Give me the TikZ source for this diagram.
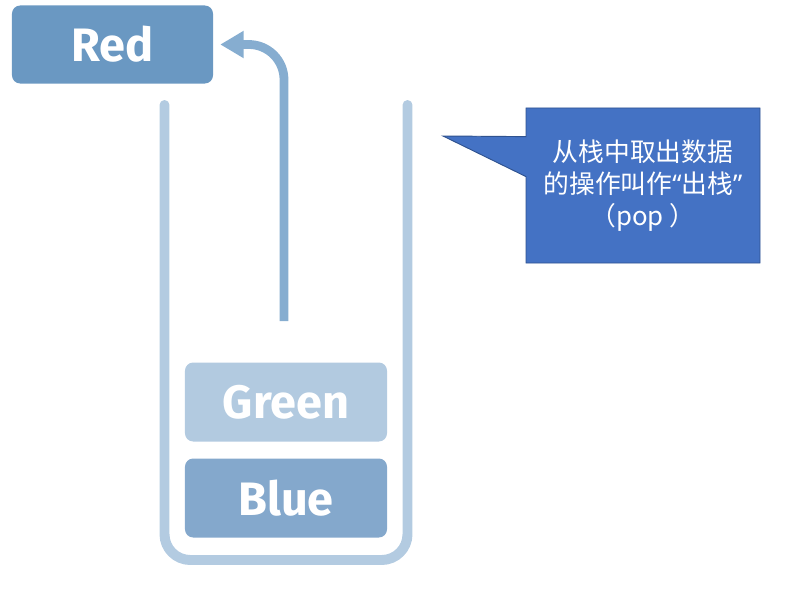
\documentclass[tikz,border=0pt]{standalone}
\usepackage{fontspec}
\setmainfont{Fira Sans}
\newfontfamily\cjkfont{Noto Sans CJK SC}
\newfontfamily\quotefont{Noto Sans}
\usetikzlibrary{arrows.meta,positioning,shapes.callouts}
\definecolor{stackbox1}{RGB}{106,152,194}
\definecolor{stackbox2}{RGB}{178,202,224}
\definecolor{stackbox3}{RGB}{132,168,204}
\definecolor{stackwall}{RGB}{179,203,225}
\definecolor{poparrow}{RGB}{134,173,208}
\definecolor{noteblue}{RGB}{68,114,196}
\definecolor{noteline}{RGB}{47,82,143}
\newcommand{\nq}[1]{{\quotefont #1}}
\tikzset{
  sitem/.style={rectangle, rounded corners=7pt, inner sep=0pt,
                minimum width=6.06cm, minimum height=2.37cm,
                text=white, font=\fontsize{40}{48}\selectfont\bfseries},
  sitemA/.style={sitem, fill=stackbox1, minimum width=6.03cm, minimum height=2.34cm},
  sitemB/.style={sitem, fill=stackbox2},
  sitemC/.style={sitem, fill=stackbox3},
  swall/.style={line width=8.5pt, stackwall, line cap=round, rounded corners=22pt},
  spop/.style={line width=7.5pt, poparrow, rounded corners=30pt,
               -{Triangle[length=20pt, width=22pt]}, shorten >=6pt},
  snote/.style={rectangle callout, fill=noteblue, draw=noteline, line width=0.8pt,
                minimum width=7.02cm, minimum height=4.65cm, inner sep=0pt,
                callout pointer width=1.2cm, text=white, align=center,
                font=\cjkfont\fontsize{22}{27}\selectfont},
}
\begin{document}
\begin{tikzpicture}[x=0.03cm, y=-0.03cm]
  \useasboundingbox (0,0) rectangle (795,589);
  % stack
  \draw[swall] (164.5,105) -- (164.5,560) -- (407.5,560) -- (407.5,105);
  \node[sitemB] (green) at (286,402) {Green};
  \node[sitemC] (blue)  at (286,498) {Blue};
  % popped item
  \node[sitemA] (red) at (112.5,44.5) {Red};
  \coordinate (popstart) at (284,321);
  \draw[spop] (popstart) |- (red.east);
  % note
  \node[snote, callout absolute pointer={(443,136)}] (note) at (643,185.5)
    {从栈中取出数据\\的操作叫作\nq{“}出栈\nq{”}\\（pop ）};
\end{tikzpicture}
\end{document}
